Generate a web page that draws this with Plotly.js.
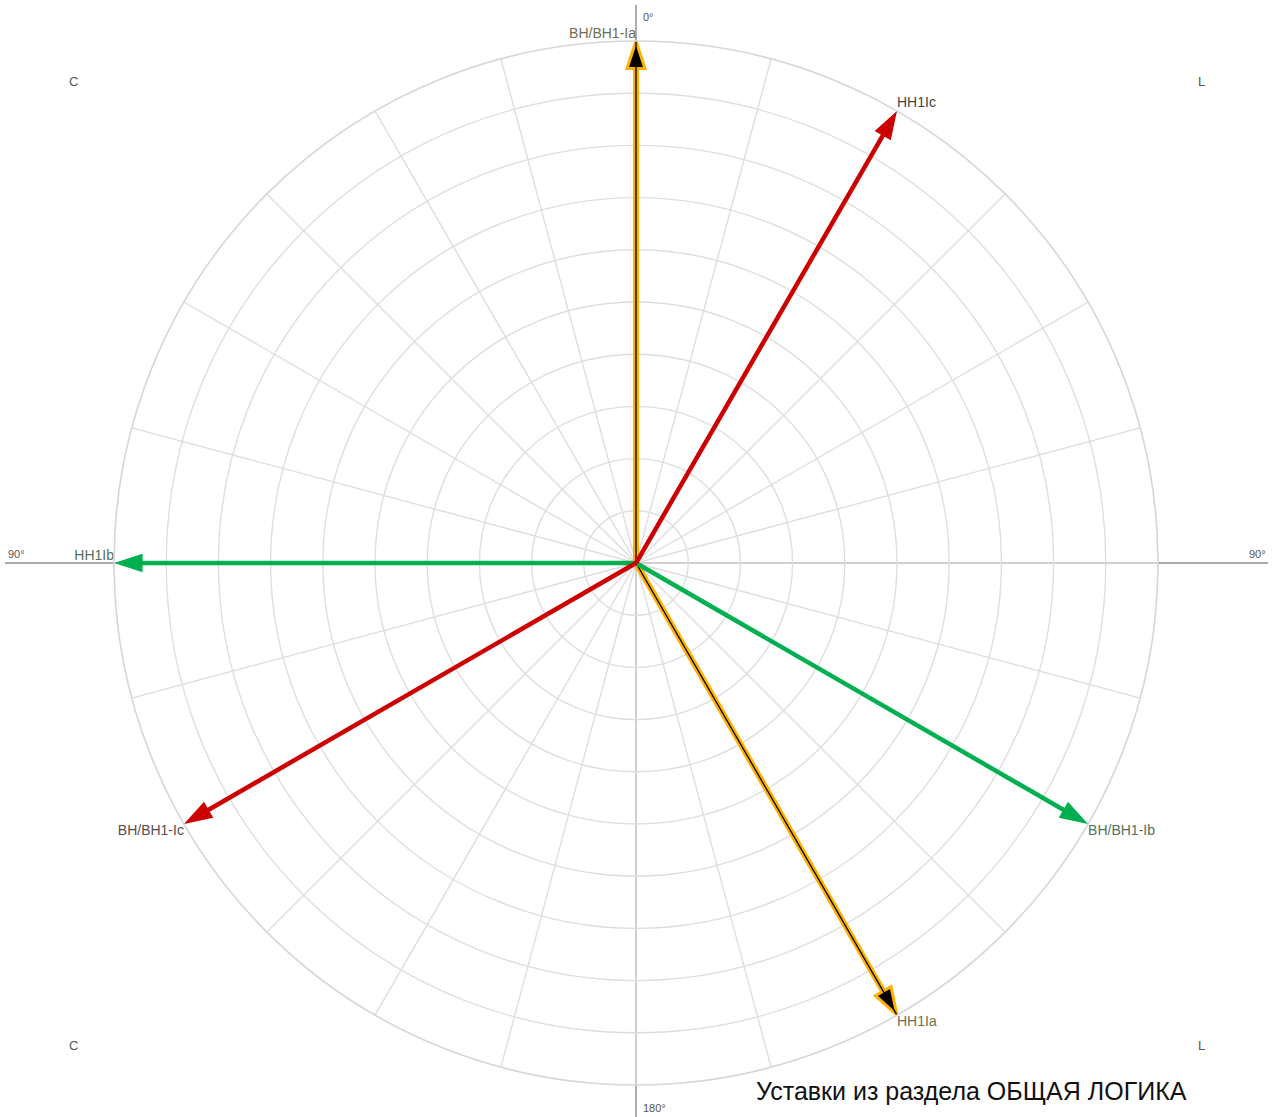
<!DOCTYPE html>
<html>
<head>
<meta charset="utf-8">
<script src="https://cdn.plot.ly/plotly-3.0.1.min.js"></script>
<style>
html,body{margin:0;padding:0;background:#fff;}
#chart{width:1273px;height:1117px;}
</style>
</head>
<body>
<div id="chart"></div>
<script>
// ---- data ----
const vectorNames = ['BH/BH1-Ia', 'HH1Ia', 'BH/BH1-Ib', 'HH1Ib', 'BH/BH1-Ic', 'HH1Ic'];
const magnitudes  = [1.0, 1.0, 1.0, 1.0, 1.0, 1.0];
const anglesDeg   = [0, 150, 120, 270, 240, 30];   // clockwise from 0° at top
const phases      = ['a', 'a', 'b', 'b', 'c', 'c'];
const labelPositions = ['top left', 'bottom right', 'bottom right', 'top left', 'bottom left', 'top right'];
const labelColors = ['#6f6f52', '#6f6f52', '#52705a', '#52705a', '#5a4c4c', '#444444'];
const angleTickLabels = ['0°', '90°', '90°', '180°'];
const quadrantLabels = ['C', 'L', 'C', 'L'];
const titleText = 'Уставки из раздела ОБЩАЯ ЛОГИКА';

const phaseColor = {a: '#FFB000', b: '#00B050', c: '#CC0000'};

// ---- traces ----
const traces = [];
vectorNames.forEach((name, i) => {
  const ph = phases[i];
  const r = [0, magnitudes[i]];
  const th = [anglesDeg[i], anglesDeg[i]];
  if (ph === 'a') {
    traces.push({
      type: 'scatterpolar', mode: 'lines+markers', r: r, theta: th,
      line: {color: phaseColor.a, width: 6, backoff: 'auto'},
      marker: {symbol: 'arrow', angleref: 'previous', size: [0, 29], color: '#000000', opacity: 1,
               line: {color: phaseColor.a, width: 3}},
      hoverinfo: 'skip', showlegend: false
    });
    traces.push({
      type: 'scatterpolar', mode: 'lines', r: r, theta: th,
      line: {color: '#000000', width: 1.3, backoff: 14},
      hoverinfo: 'skip', showlegend: false
    });
  } else {
    traces.push({
      type: 'scatterpolar', mode: 'lines+markers', r: r, theta: th,
      line: {color: phaseColor[ph], width: 4.5, backoff: 'auto'},
      marker: {symbol: 'arrow', angleref: 'previous', size: [0, 30], color: phaseColor[ph], opacity: 1,
               line: {width: 0}},
      hoverinfo: 'skip', showlegend: false
    });
  }
});
traces.push({
  type: 'scatterpolar', mode: 'text', r: magnitudes, theta: anglesDeg,
  text: vectorNames, textposition: labelPositions,
  textfont: {family: 'Liberation Sans, Arial, sans-serif', size: 14, color: labelColors},
  hoverinfo: 'skip', showlegend: false, cliponaxis: false
});

// ---- layout ----
const W = 1273, H = 1117;
const px = x => x / W;
const py = y => (H - y) / H;
const cx = 636, cy = 563;

const smallFont = {family: 'Liberation Sans, Arial, sans-serif', size: 11, color: '#555555'};
const qFont = {family: 'Liberation Sans, Arial, sans-serif', size: 13, color: '#555'};
const annotations = [
  {text: angleTickLabels[0], x: px(641), y: py(17), xanchor: 'left', yanchor: 'middle'},
  {text: angleTickLabels[1], x: px(6), y: py(554), xanchor: 'left', yanchor: 'middle'},
  {text: angleTickLabels[2], x: px(1268), y: py(554), xanchor: 'right', yanchor: 'middle'},
  {text: angleTickLabels[3], x: px(641), y: py(1108), xanchor: 'left', yanchor: 'middle'},
  {text: quadrantLabels[0], x: px(73), y: py(81), xanchor: 'center', yanchor: 'middle', font: qFont},
  {text: quadrantLabels[1], x: px(1201), y: py(81), xanchor: 'center', yanchor: 'middle', font: qFont},
  {text: quadrantLabels[2], x: px(73), y: py(1045), xanchor: 'center', yanchor: 'middle', font: qFont},
  {text: quadrantLabels[3], x: px(1201), y: py(1045), xanchor: 'center', yanchor: 'middle', font: qFont},
  {text: titleText, x: px(754), y: py(1091), xanchor: 'left', yanchor: 'middle',
   font: {family: 'Liberation Sans, Arial, sans-serif', size: 25, color: '#111111'}}
].map(a => Object.assign({xref: 'paper', yref: 'paper', showarrow: false, font: smallFont}, a));

const layout = {
  width: W, height: H,
  margin: {l: 0, r: 0, t: 0, b: 0, pad: 0},
  paper_bgcolor: '#ffffff',
  showlegend: false,
  polar: {
    domain: {x: [px(cx - 522), px(cx + 522)], y: [py(cy + 522), py(cy - 522)]},
    bgcolor: 'rgba(0,0,0,0)',
    angularaxis: {
      rotation: 90, direction: 'clockwise', dtick: 15,
      showticklabels: false, ticks: '',
      gridcolor: '#dedede', gridwidth: 1.4,
      showline: true, linecolor: '#d6d6d6', linewidth: 1.6
    },
    radialaxis: {
      range: [0, 1], dtick: 0.1,
      showticklabels: false, ticks: '', showline: false,
      gridcolor: '#dedede', gridwidth: 1.4
    }
  },
  shapes: [
    {type: 'line', xref: 'paper', yref: 'paper', layer: 'below',
     x0: px(cx), x1: px(cx), y0: py(5), y1: py(H), line: {color: '#8c8c8c', width: 1.4}},
    {type: 'line', xref: 'paper', yref: 'paper', layer: 'below',
     x0: px(5), x1: px(1268), y0: py(cy), y1: py(cy), line: {color: '#8c8c8c', width: 1.4}}
  ],
  annotations: annotations
};

Plotly.newPlot('chart', traces, layout, {displayModeBar: false, staticPlot: true});
</script>
</body>
</html>
